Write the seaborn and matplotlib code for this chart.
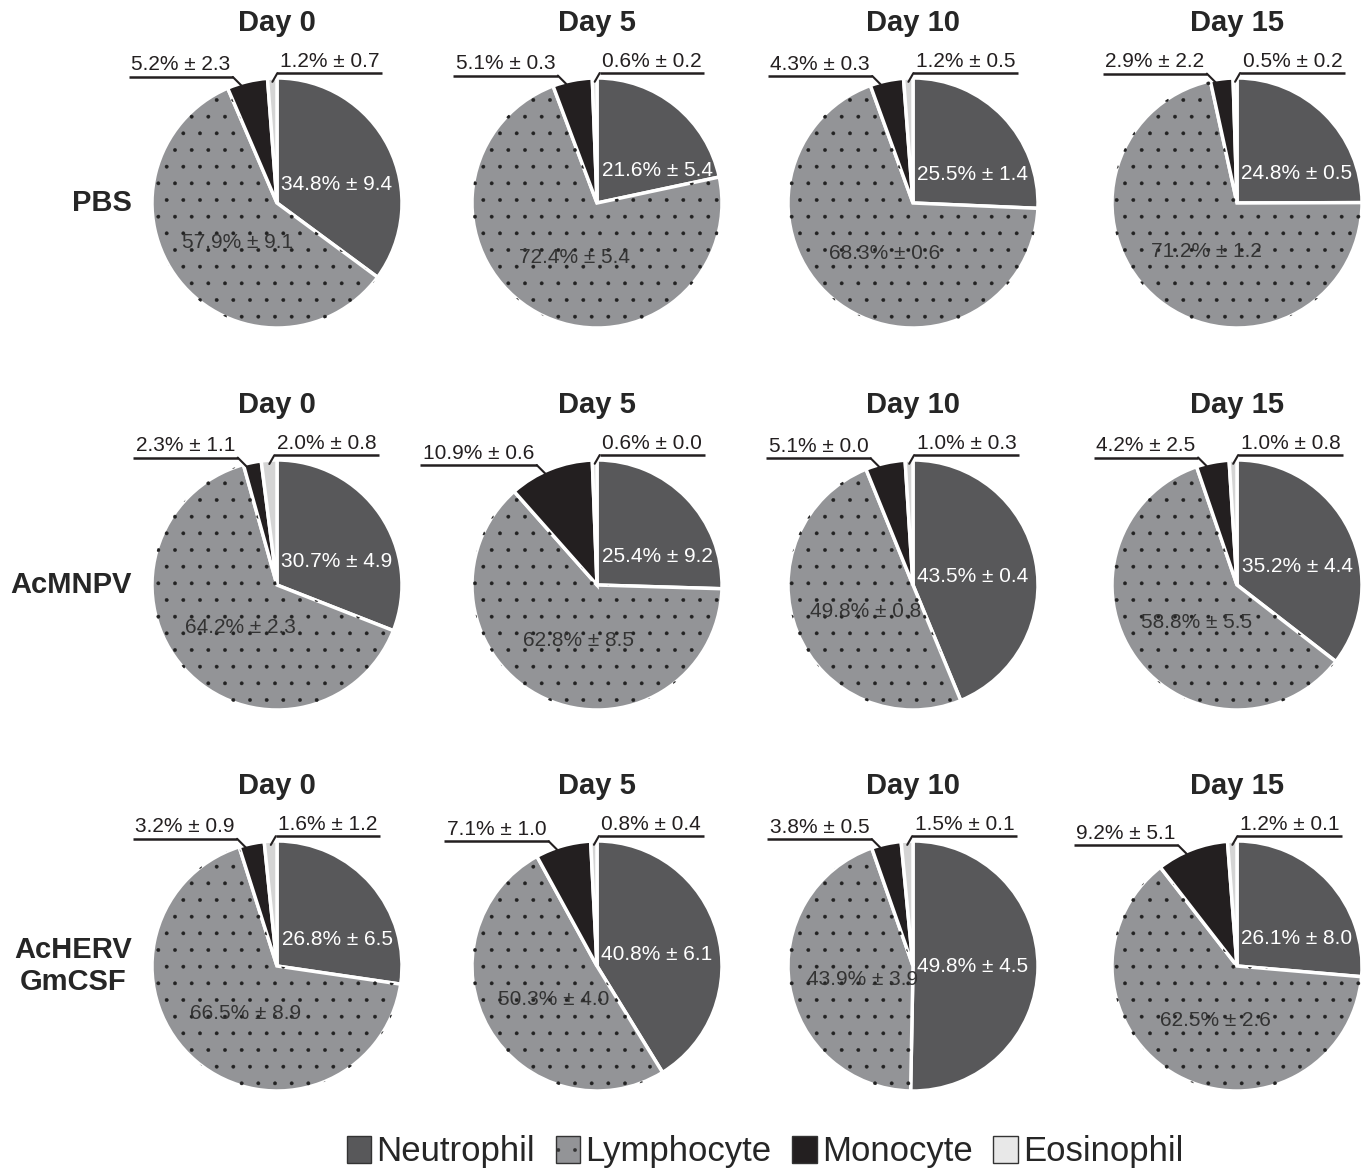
import matplotlib
matplotlib.use('Agg')
import numpy as np
import seaborn as sns
import matplotlib.pyplot as plt
from matplotlib.patches import Wedge, Patch

sns.set_style('white')
plt.rcParams['font.family'] = ['Liberation Sans', 'DejaVu Sans']
plt.rcParams['hatch.linewidth'] = 0.3

# data (mean % and SD), rows = groups, columns = days
groups = ['PBS', 'AcMNPV', 'AcHERV\nGmCSF']
days = ['Day 0', 'Day 5', 'Day 10', 'Day 15']
cells = ['Neutrophil', 'Lymphocyte', 'Monocyte', 'Eosinophil']

neutrophil_mean = [[34.8, 21.6, 25.5, 24.8], [30.7, 25.4, 43.5, 35.2], [26.8, 40.8, 49.8, 26.1]]
neutrophil_sd = [[9.4, 5.4, 1.4, 0.5], [4.9, 9.2, 0.4, 4.4], [6.5, 6.1, 4.5, 8.0]]
lymphocyte_mean = [[57.9, 72.4, 68.3, 71.2], [64.2, 62.8, 49.8, 58.8], [66.5, 50.3, 43.9, 62.5]]
lymphocyte_sd = [[9.1, 5.4, 0.6, 1.2], [2.3, 8.5, 0.8, 5.5], [8.9, 4.0, 3.9, 2.6]]
monocyte_mean = [[5.2, 5.1, 4.3, 2.9], [2.3, 10.9, 5.1, 4.2], [3.2, 7.1, 3.8, 9.2]]
monocyte_sd = [[2.3, 0.3, 0.3, 2.2], [1.1, 0.6, 0.0, 2.5], [0.9, 1.0, 0.5, 5.1]]
eosinophil_mean = [[1.2, 0.6, 1.2, 0.5], [2.0, 0.6, 1.0, 1.0], [1.6, 0.8, 1.5, 1.2]]
eosinophil_sd = [[0.7, 0.2, 0.5, 0.2], [0.8, 0.0, 0.3, 0.8], [1.2, 0.4, 0.1, 0.1]]

colors = ['#58585a', '#939497', '#231f20', '#d4d4d4']
legend_colors = ['#58585a', '#939497', '#231f20', '#e8e8e8']

W, H = 1367, 1170
fig = plt.figure(figsize=(W / 100, H / 100), dpi=100)

col_x = [277, 597, 913, 1237]   # pie centres in pixels
row_y = [203, 585, 966]
R = 125
half = 1.5

def fmt(m, s):
    return f"{m:.1f}% \u00b1 {s:.1f}"

small_labels = []  # (ax, text, side, P, E)

for i, grp in enumerate(groups):
    for j, day in enumerate(days):
        cx, cy = col_x[j], row_y[i]
        hp = half * R
        ax = fig.add_axes([(cx - hp) / W, 1 - (cy + hp) / H, 2 * hp / W, 2 * hp / H])
        vals = [neutrophil_mean[i][j], lymphocyte_mean[i][j], monocyte_mean[i][j], eosinophil_mean[i][j]]
        sds = [neutrophil_sd[i][j], lymphocyte_sd[i][j], monocyte_sd[i][j], eosinophil_sd[i][j]]
        wedges, _ = ax.pie(vals, colors=colors, startangle=90, counterclock=False, radius=1,
                           wedgeprops=dict(edgecolor='white', linewidth=2.5))
        # stipple on lymphocyte wedge
        lw_ = wedges[1]
        ax.add_patch(Wedge(lw_.center, lw_.r, lw_.theta1, lw_.theta2, facecolor='none',
                           edgecolor='#222222', linewidth=0, hatch='.'))
        ax.set_xlim(-half, half)
        ax.set_ylim(-half, half)
        ax.set_aspect('equal')
        ax.axis('off')

        mids = [np.deg2rad((w.theta1 + w.theta2) / 2) for w in wedges]
        # inner labels
        a = mids[0]
        ax.text(0.48, 0.33 * np.sin(a), fmt(vals[0], sds[0]), ha='center', va='center',
                color='white', fontsize=15)
        a = mids[1]
        ax.text(0.45 * np.cos(a) + 0.04, 0.45 * np.sin(a) - 0.04, fmt(vals[1], sds[1]),
                ha='center', va='center', color='#333333', fontsize=15)
        # outer labels with leader lines
        a = mids[2] + np.deg2rad(3)
        P = (0.98 * np.cos(a), 0.98 * np.sin(a))
        E = (P[0] - 0.07, P[1] + 0.07)
        t = ax.text(E[0] - 0.02, E[1] + 0.02, fmt(vals[2], sds[2]), ha='right', va='bottom',
                    color='#231f20', fontsize=15)
        small_labels.append((ax, t, 'left', P, E))
        a = mids[3]
        P = (0.97 * np.cos(a), 0.97 * np.sin(a))
        E = (P[0] + 0.04, P[1] + 0.07)
        t = ax.text(E[0] + 0.02, E[1] + 0.02, fmt(vals[3], sds[3]), ha='left', va='bottom',
                    color='#231f20', fontsize=15)
        small_labels.append((ax, t, 'right', P, E))

        ax.text(0, 1.44, day, ha='center', va='center', fontsize=21, fontweight='bold')

    fig.text(132 / W, 1 - row_y[i] / H, grp, ha='right', va='center', fontsize=21,
             fontweight='bold', multialignment='center')

fig.canvas.draw()
renderer = fig.canvas.get_renderer()
for ax, t, side, P, E in small_labels:
    bb = t.get_window_extent(renderer).transformed(ax.transData.inverted())
    if side == 'left':
        x0, x1 = bb.x0 - 0.02, E[0]
    else:
        x0, x1 = E[0], bb.x1 + 0.02
    ax.plot([x0, x1], [E[1], E[1]], color='#231f20', lw=1.8, clip_on=False, solid_capstyle='butt')
    ax.plot([P[0], E[0]], [P[1], E[1]], color='#231f20', lw=1.5, clip_on=False)

handles = []
for k, c in enumerate(cells):
    handles.append(Patch(facecolor=legend_colors[k], edgecolor='#333333', linewidth=1,
                         hatch='.' if c == 'Lymphocyte' else None, label=c))
fig.legend(handles=handles, loc='center', bbox_to_anchor=(765 / W, 1 - 1152 / H), ncol=4,
           frameon=False, fontsize=25, handlelength=0.7, handleheight=0.85,
           handletextpad=0.15, columnspacing=0.6)

fig.savefig('out.png', dpi=100)
